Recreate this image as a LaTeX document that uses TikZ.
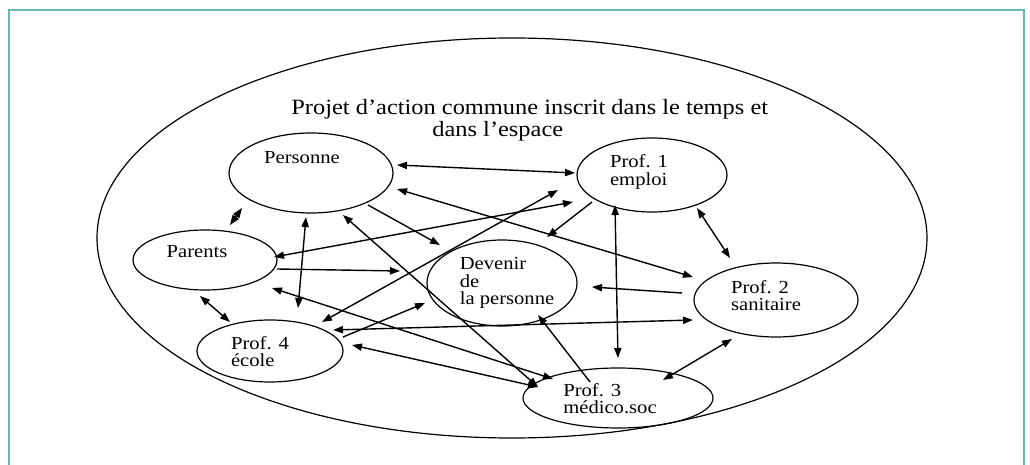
\documentclass[tikz,border=0pt]{standalone}
\usepackage{fontspec}
\setmainfont{Liberation Serif}[FakeStretch=1.12]
\usetikzlibrary{shapes.geometric,arrows.meta,calc}
\definecolor{cadre}{RGB}{104,182,192}
\begin{document}
\begin{tikzpicture}[x=.5pt, y=-.5pt,
    bulle/.style={draw, ellipse, line width=.6pt, inner sep=0pt},
    texte/.style={font=\fontsize{9.2}{8.6}\selectfont, align=left, inner sep=0pt},
    fl/.style={line width=.7pt, -{Triangle[length=5pt,width=3.6pt]}},
    dfl/.style={line width=.7pt, {Triangle[length=5pt,width=3.6pt]}-{Triangle[length=5pt,width=3.6pt]}}]
                \useasboundingbox (0,0) rectangle (1030,465);
                \draw[cadre, line width=1.2pt](9,470)--(9,10)--(1024,10)--(1024,470);
                % grande bulle et titre
                \node[bulle, minimum width=415pt, minimum height=200pt] (projet) at (512,238) {};
                \node[font=\fontsize{10.9}{9.6}\selectfont, align=left, inner sep=0pt, anchor=west] (titre) at (291,120)
                    {Projet d'action commune inscrit dans le temps et\\\hspace*{70.5pt}dans l'espace};
                % acteurs
                \node[bulle, minimum width=82pt, minimum height=40pt, label={[texte, shift={(-9,-15)}]center:Personne}] (personne) at (311,173) {};
                \node[bulle, minimum width=72pt, minimum height=30pt, label={[texte, shift={(-8,-8)}]center:Parents}] (parents) at (205,260) {};
                \node[bulle, minimum width=75pt, minimum height=37pt, label={[texte, shift={(-13,-3)}]center:Prof. 1\\emploi}] (emploi) at (652,175) {};
                \node[bulle, minimum width=75pt, minimum height=43pt, label={[texte, shift={(5,0)}]center:Devenir\\de\\la personne}] (devenir) at (502,283) {};
                \node[bulle, minimum width=82pt, minimum height=37pt, label={[texte, shift={(-10,-4)}]center:Prof. 2\\sanitaire}] (sanitaire) at (776,300) {};
                \node[bulle, minimum width=73pt, minimum height=31pt, label={[texte, shift={(-10,1)}]center:Prof. 4\\école}] (ecole) at (270,351) {};
                \node[bulle, minimum width=95pt, minimum height=30pt, label={[texte, shift={(-8,1)}]center:Prof. 3\\médico.soc}] (medico) at (618,398) {};
                % liens
                \draw[dfl]($(personne)+(86,-8)$)--($(emploi)+(-77,-2)$);
                \draw[dfl]($(personne)+(86,16)$)--($(sanitaire)+(-83,-23)$);
                \draw[dfl]($(parents)+(25,-35)$)--($(personne)+(-69,35)$);
                \draw[dfl]($(personne)+(-5,44)$)--($(ecole)+(28,-43)$);
                \draw[dfl]($(personne)+(32,42)$)--($(medico)+(-80,-11)$);
                \draw[fl]($(personne)+(57,32)$)--($(devenir)+(-62,-38)$);
                \draw[dfl]($(parents)+(69,-3)$)--($(emploi)+(-79,27)$);
                \draw[fl]($(parents)+(72,9)$)--($(devenir)+(-102,-12)$);
                \draw[dfl]($(parents)+(67,28)$)--($(medico)+(-65,-19)$);
                \draw[dfl]($(parents)+(-5,36)$)--($(ecole)+(-40,-29)$);
                \draw[fl]($(emploi)+(-60,27)$)--($(devenir)+(45,-46)$);
                \draw[dfl]($(emploi)+(-37,30)$)--($(medico)+(0,-40)$);
                \draw[dfl]($(emploi)+(45,33)$)--($(sanitaire)+(-46,-42)$);
                \draw[dfl]($(ecole)+(52,-29)$)--($(emploi)+(-94,15)$);
                \draw[fl]($(sanitaire)+(-94,-7)$)--($(devenir)+(90,4)$);
                \draw[dfl]($(ecole)+(63,-21)$)--($(sanitaire)+(-83,20)$);
                \draw[dfl]($(sanitaire)+(-44,39)$)--($(medico)+(45,-18)$);
                \draw[fl]($(medico)+(-28,-16)$)--($(devenir)+(36,32)$);
                \draw[fl]($(ecole)+(73,-14)$)--($(devenir)+(-77,20)$);
                \draw[dfl]($(ecole)+(82,-6)$)--($(medico)+(-80,-11)$);
            \end{tikzpicture}
\end{document}
